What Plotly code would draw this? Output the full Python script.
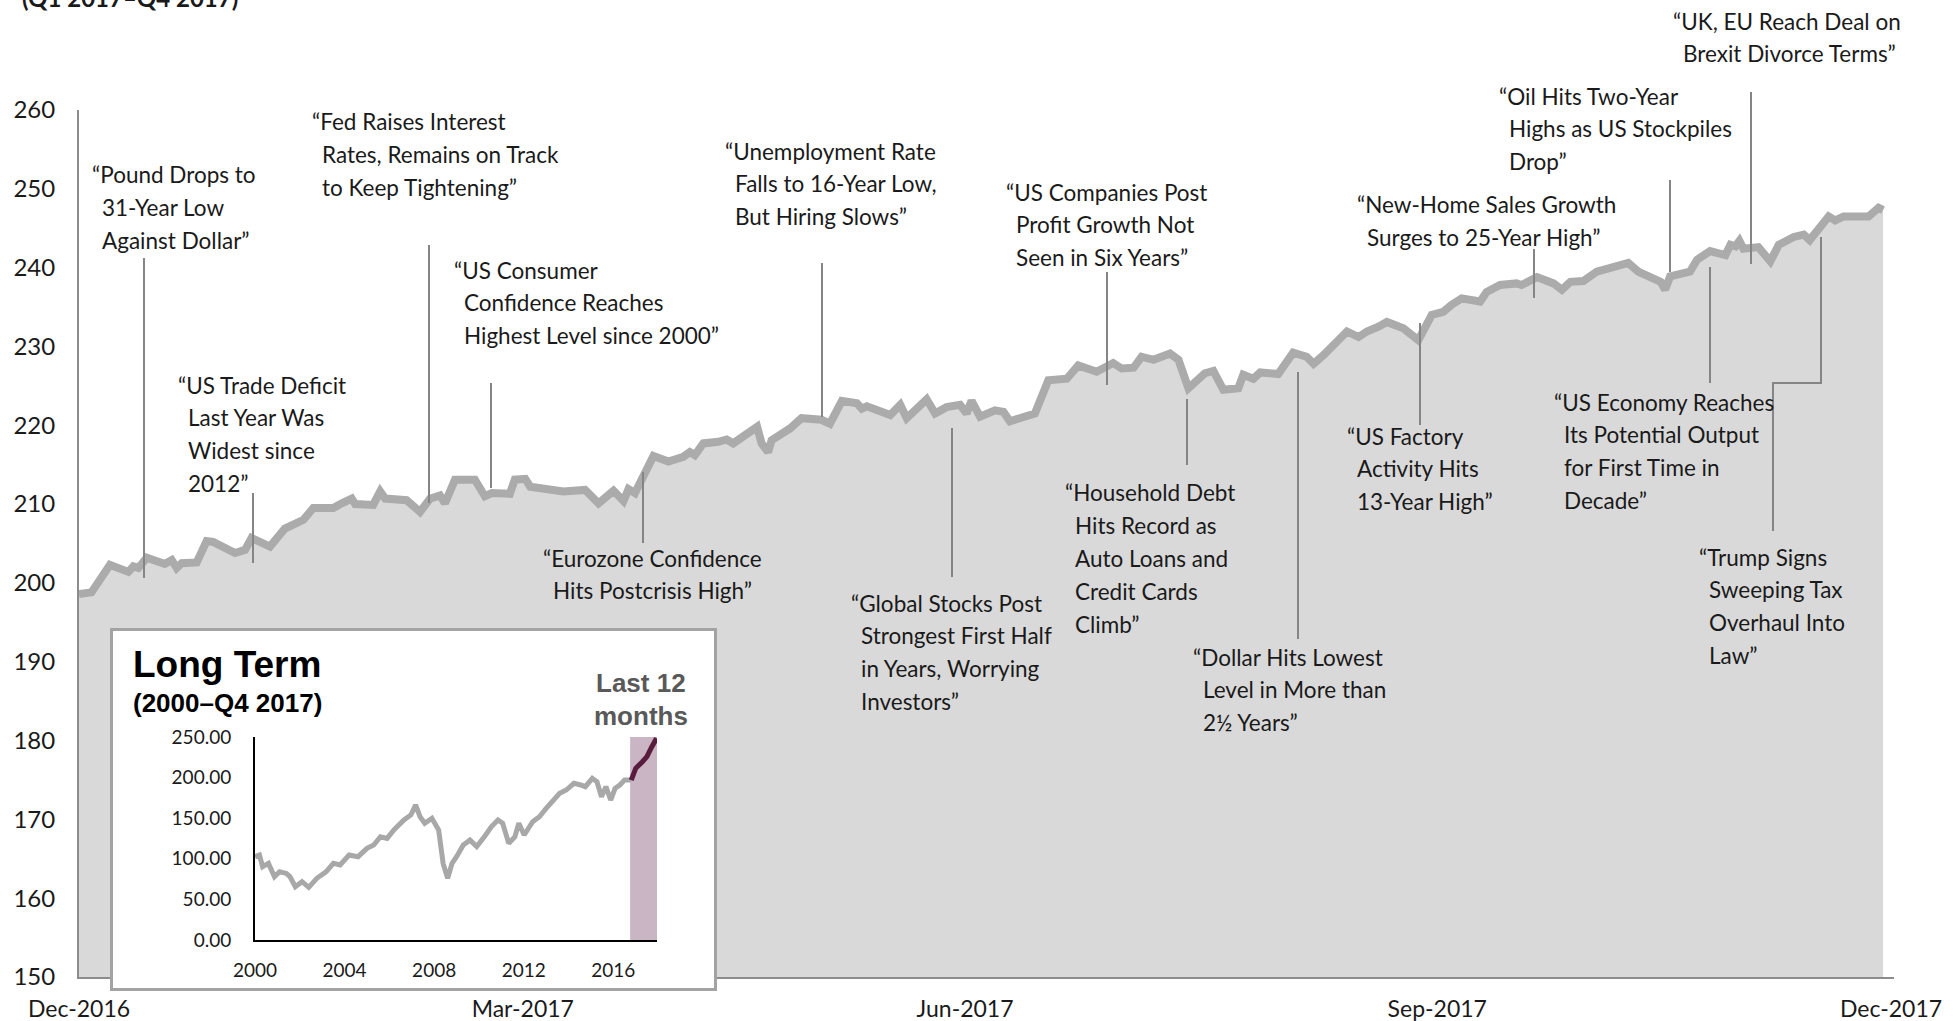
import pandas as pd
import plotly.graph_objects as go

W, H = 1958, 1021

# ---------------- main series (days after 30 Dec 2016, index level) ----------------
START = "2016-12-30"
days = [0, 2.5, 6.2, 9.9, 10.9, 11.9, 13.6, 17.2, 18.6, 19.6,
        20.6, 23.6, 25.6, 26.9, 31.3, 33.3, 34.6, 38.3, 41.3, 45.0,
        47.0, 51.0, 52.7, 54.7, 55.4, 59.0, 60.4, 61.4, 65.7, 68.4,
        70.4, 72.4, 73.4, 75.4, 79.4, 81.4, 82.8, 86.4, 87.4, 89.5,
        90.5, 94.5, 97.1, 101.5, 104.2, 107.2, 109.2, 110.2, 111.5, 115.2,
        118.2, 121.2, 122.5, 123.5, 125.2, 128.2, 129.9, 131.2, 134.6, 136.0,
        136.9, 138.2, 138.9, 142.6, 144.9, 148.9, 150.6, 153.0, 156.0, 157.0,
        158.0, 162.7, 164.7, 166.0, 170.0, 171.7, 174.0, 176.7,
        178.0, 179.0, 180.7, 183.7, 185.4, 186.7, 191.7, 192.7, 194.4, 198.1,
        200.4, 204.1, 207.4, 209.1, 211.5, 213.1, 215.5, 218.8, 220.5, 222.5,
        225.8, 227.5, 229.5, 232.5, 233.5, 235.5, 236.9, 240.5, 243.5, 246.2,
        247.6, 249.6, 254.3, 256.6, 258.3, 260.6, 262.3,
        265.6, 268.6, 271.3, 273.6, 275.3, 277.3, 281.0, 282.3, 285.0, 288.3,
        289.3, 290.3, 292.4, 295.7, 297.4, 299.1, 301.7, 304.4, 307.7, 310.7,
        312.7, 315.7, 317.2, 318.1, 319.1, 323.1, 324.5, 327.1, 330.2, 331.2,
        332.2, 333.0, 333.8, 336.8, 339.2, 340.9, 343.9, 345.9, 347.1, 350.9,
        352.2, 353.9, 358.9, 360.9, 361.8]
values = [198.6, 198.8, 202.3, 201.4, 202.1, 201.9, 203.2, 202.4, 202.9, 201.9,
          202.5, 202.6, 205.3, 205.2, 203.8, 204.2, 205.7, 204.6, 206.9, 208.0,
          209.5, 209.5, 210.1, 210.7, 210.0, 209.9, 211.6, 210.7, 210.5, 209.0,
          210.7, 211.1, 210.1, 213.1, 213.1, 211.0, 211.4, 211.3, 213.1, 213.2,
          212.2, 211.9, 211.6, 211.8, 210.1, 211.7, 210.4, 211.9, 211.4, 216.1,
          215.4, 216.0, 216.6, 216.2, 217.7, 217.9, 218.2, 217.7, 219.0, 219.8,
          217.7, 216.6, 218.1, 219.6, 220.9, 220.7, 220.2, 223.1, 222.8, 222.1,
          222.4, 221.3, 222.6, 220.9, 223.3, 221.5, 222.3, 222.6,
          221.5, 223.1, 221.1, 221.9, 221.7, 220.5, 221.5, 223.2, 225.7, 225.9,
          227.6, 226.8, 227.9, 227.2, 227.3, 228.7, 228.3, 229.1, 228.3, 224.7,
          226.6, 226.9, 224.5, 224.7, 226.4, 225.9, 226.7, 226.5, 229.2, 228.7,
          227.8, 228.9, 231.9, 231.2, 231.9, 232.5, 233.1,
          232.3, 230.8, 234.0, 234.4, 235.3, 236.1, 235.7, 236.9, 237.8, 238.0,
          237.8, 238.2, 238.8, 238.0, 237.2, 238.2, 238.3, 239.5, 240.0, 240.6,
          239.5, 238.8, 238.2, 237.2, 238.9, 239.5, 241.0, 242.1, 241.6, 242.9,
          242.7, 243.4, 242.4, 242.6, 240.8, 242.9, 243.9, 244.2, 243.5, 246.5,
          246.0, 246.5, 246.5, 247.6, 247.3]

x_tick_days = [0, 89.0, 177.7, 272.4, 363.4]
x_tick_text = ["Dec-2016", "Mar-2017", "Jun-2017", "Sep-2017", "Dec-2017"]
y_ticks = [150, 160, 170, 180, 190, 200, 210, 220, 230, 240, 250, 260]

# ---------------- long-term inset series ----------------
lt_years = [2000.0, 2000.2, 2000.34, 2000.6, 2000.87, 2001.1, 2001.4, 2001.56, 2001.8, 2002.1,
            2002.4, 2002.76, 2003.17, 2003.5, 2003.8, 2004.2, 2004.6, 2005.0, 2005.3, 2005.6,
            2005.9, 2006.2, 2006.65, 2006.96, 2007.17, 2007.37, 2007.58, 2007.9, 2008.2, 2008.4,
            2008.6, 2008.8, 2009.0, 2009.3, 2009.6, 2009.9, 2010.24, 2010.55, 2010.85, 2011.06,
            2011.33, 2011.6, 2011.78, 2012.02, 2012.4, 2012.7, 2013.0, 2013.3, 2013.6, 2013.9,
            2014.24, 2014.54, 2014.75, 2015.06, 2015.27, 2015.47, 2015.67, 2015.88, 2016.08, 2016.29,
            2016.5, 2016.66, 2016.8]
lt_values = [102.6, 104.7, 90.3, 94.4, 78, 84, 82, 78, 65.6, 71.8,
             64.9, 76, 84, 94.4, 92.4, 104.7, 102.6, 112.9, 117, 127.2,
             125.2, 135.5, 147.8, 154, 166.3, 151.8, 143.7, 149.9, 135.5, 94.4,
             76, 94.4, 102.6, 117, 123, 115, 127, 139.5, 147.8, 143.7,
             119, 127, 143.7, 129.3, 145.7, 151.8, 162, 170.3, 180.6, 184.7,
             193, 190.9, 188.8, 199.1, 194.9, 176.5, 188.8, 172.4, 186.8, 190.9,
             197, 197, 197]
recent_years = [2016.8, 2017.0, 2017.3, 2017.5, 2017.72, 2017.93]
recent_values = [197, 211.4, 219.6, 225.8, 238, 248.4]
lt_ticks = [2000, 2004, 2008, 2012, 2016]
lt_yticks = [0, 50, 100, 150, 200, 250]
shade_span = [2016.75, 2017.95]

# ---------------- news annotations ----------------
note_texts = [
    ["“Pound Drops to", "31-Year Low", "Against Dollar”"],
    ["“US Trade Deficit", "Last Year Was", "Widest since", "2012”"],
    ["“Fed Raises Interest", "Rates, Remains on Track", "to Keep Tightening”"],
    ["“US Consumer", "Confidence Reaches", "Highest Level since 2000”"],
    ["“Eurozone Confidence", "Hits Postcrisis High”"],
    ["“Unemployment Rate", "Falls to 16-Year Low,", "But Hiring Slows”"],
    ["“Global Stocks Post", "Strongest First Half", "in Years, Worrying", "Investors”"],
    ["“US Companies Post", "Profit Growth Not", "Seen in Six Years”"],
    ["“Household Debt", "Hits Record as", "Auto Loans and", "Credit Cards", "Climb”"],
    ["“Dollar Hits Lowest", "Level in More than", "2½ Years”"],
    ["“US Factory", "Activity Hits", "13-Year High”"],
    ["“New-Home Sales Growth", "Surges to 25-Year High”"],
    ["“Oil Hits Two-Year", "Highs as US Stockpiles", "Drop”"],
    ["“UK, EU Reach Deal on", "Brexit Divorce Terms”"],
    ["“US Economy Reaches", "Its Potential Output", "for First Time in", "Decade”"],
    ["“Trump Signs", "Sweeping Tax", "Overhaul Into", "Law”"],
]
# text left (px) and first-line centre (px)
note_pos = [(90, 175), (176, 385), (310, 122), (452, 270), (541, 558), (723, 151),
            (849, 603), (1004, 192), (1063, 493), (1191, 657), (1345, 436), (1355, 205),
            (1497, 96), (1671, 21), (1552, 402), (1697, 557)]
# leader lines as pixel polylines
leaders = [
    [(144, 258), (144, 578)],
    [(253, 493), (253, 563)],
    [(429, 245), (429, 503)],
    [(491, 383), (491, 488)],
    [(643, 472), (643, 543)],
    [(822, 263), (822, 417)],
    [(952, 428), (952, 577)],
    [(1107, 272), (1107, 385)],
    [(1187, 399), (1187, 465)],
    [(1298, 372), (1298, 639)],
    [(1420, 323), (1420, 425)],
    [(1534, 249), (1534, 298)],
    [(1670, 180), (1670, 272)],
    [(1751, 92), (1751, 264)],
    [(1710, 267), (1710, 383)],
    [(1773, 531), (1773, 383), (1821, 383), (1821, 237)],
]
LINE_H = 32.8


def px(x):
    return x / W


def py(y):
    return 1 - y / H


start = pd.Timestamp(START)
x_dates = start + pd.to_timedelta(days, unit="D")
tick_dates = start + pd.to_timedelta(x_tick_days, unit="D")
x_end = start + pd.Timedelta(days=364)

TXT = "#1a1a1a"
fig = go.Figure()

# main area chart
fig.add_trace(go.Scatter(
    x=x_dates, y=values, mode="lines",
    line=dict(color="#ababab", width=8),
    fill="tozeroy", fillcolor="#d9d9d9",
    xaxis="x", yaxis="y", showlegend=False,
    hovertemplate="%{x|%d %b %Y}: %{y:.1f}<extra></extra>",
))
# inset frame (empty subplot used as white box)
fig.add_trace(go.Scatter(x=[], y=[], xaxis="x2", yaxis="y2",
                         showlegend=False, hoverinfo="skip"))
# inset long-term line
fig.add_trace(go.Scatter(
    x=lt_years, y=lt_values, mode="lines",
    line=dict(color="#a8a8a8", width=5),
    xaxis="x3", yaxis="y3", showlegend=False,
))
fig.add_trace(go.Scatter(
    x=recent_years, y=recent_values, mode="lines",
    line=dict(color="#5a1c3c", width=5),
    xaxis="x3", yaxis="y3", showlegend=False,
))

font_y = dict(family="Lato, 'Open Sans', sans-serif", size=24, color=TXT)
font_x = dict(family="Lato, 'Open Sans', sans-serif", size=23, color=TXT)

fig.update_layout(
    width=W, height=H, autosize=False,
    margin=dict(l=0, r=0, t=0, b=0, autoexpand=False),
    paper_bgcolor="white", plot_bgcolor="white",
    xaxis=dict(
        domain=[px(79), px(1894)], anchor="y", automargin=False,
        range=[start, x_end], type="date",
        tickvals=tick_dates, ticktext=x_tick_text,
        showline=True, linecolor="#8c8c8c", linewidth=2,
        showgrid=False, zeroline=False, ticks="",
        tickfont=font_x, ticklabelstandoff=10,
    ),
    yaxis=dict(
        domain=[py(977), py(110)], anchor="x", automargin=False,
        range=[150, 260], tickvals=y_ticks,
        showline=True, linecolor="#8c8c8c", linewidth=2,
        showgrid=False, zeroline=False, ticks="",
        tickfont=font_y, ticklabelstandoff=17,
    ),
    xaxis2=dict(
        domain=[px(113), px(714)], anchor="y2", range=[0, 1], automargin=False,
        showline=True, mirror=True, linecolor="#a3a3a3", linewidth=3,
        showgrid=False, zeroline=False, showticklabels=False, ticks="",
        fixedrange=True,
    ),
    yaxis2=dict(
        domain=[py(988), py(631)], anchor="x2", range=[0, 1], automargin=False,
        showline=True, mirror=True, linecolor="#a3a3a3", linewidth=3,
        showgrid=False, zeroline=False, showticklabels=False, ticks="",
        fixedrange=True,
    ),
    xaxis3=dict(
        domain=[px(255), px(657)], anchor="y3", range=[2000, 2017.95], automargin=False,
        tickvals=lt_ticks, ticktext=[str(t) for t in lt_ticks],
        showline=True, linecolor="black", linewidth=2,
        showgrid=False, zeroline=False, ticks="",
        tickfont=dict(family="Lato, sans-serif", size=19, color=TXT),
        ticklabelstandoff=12,
    ),
    yaxis3=dict(
        domain=[py(940), py(737)], anchor="x3", range=[0, 250], automargin=False,
        tickvals=lt_yticks, tickformat=".2f",
        showline=True, linecolor="black", linewidth=2,
        showgrid=False, zeroline=False, ticks="",
        tickfont=dict(family="Lato, sans-serif", size=19, color=TXT),
        ticklabelstandoff=18,
    ),
)

# shaded last-12-months band in the inset
fig.add_shape(type="rect", xref="x3", yref="y3",
              x0=shade_span[0], x1=shade_span[1], y0=0, y1=250,
              fillcolor="#c9b5c3", line=dict(width=0), layer="below")

# news annotations, one annotation per text line
note_font = dict(family="Lato, 'Open Sans', sans-serif", size=22.5, color=TXT)
for lines, (x0, y0) in zip(note_texts, note_pos):
    for i, t in enumerate(lines):
        fig.add_annotation(
            text=t, xref="paper", yref="paper",
            x=px(x0 if i == 0 else x0 + 10), y=py(y0 + i * LINE_H),
            xanchor="left", yanchor="middle", showarrow=False,
            font=note_font,
        )

for pts in leaders:
    path = "M " + " L ".join(f"{px(a):.5f},{py(b):.5f}" for a, b in pts)
    fig.add_shape(type="path", xref="paper", yref="paper", path=path,
                  line=dict(color="#858585", width=2), layer="above")

# partially visible heading at the very top (cut by the page edge, as in the source)
fig.add_annotation(text="<b>(Q1 2017–Q4 2017)</b>", xref="paper", yref="paper",
                   x=px(20), y=py(-2), xanchor="left", yanchor="middle",
                   showarrow=False,
                   font=dict(family="Lato, sans-serif", size=24, color=TXT))

# inset titles
fig.add_annotation(text="<b>Long Term</b>", xref="paper", yref="paper",
                   x=px(131), y=py(664), xanchor="left", yanchor="middle",
                   showarrow=False,
                   font=dict(family="Liberation Sans, Arial, sans-serif", size=37, color="black"))
fig.add_annotation(text="<b>(2000–Q4 2017)</b>", xref="paper", yref="paper",
                   x=px(131), y=py(703), xanchor="left", yanchor="middle",
                   showarrow=False,
                   font=dict(family="Liberation Sans, Arial, sans-serif", size=26, color="black"))
fig.add_annotation(text="<b>Last 12</b>", xref="paper", yref="paper",
                   x=px(641), y=py(683), xanchor="center", yanchor="middle",
                   showarrow=False,
                   font=dict(family="Liberation Sans, Arial, sans-serif", size=26, color="#595959"))
fig.add_annotation(text="<b>months</b>", xref="paper", yref="paper",
                   x=px(641), y=py(716), xanchor="center", yanchor="middle",
                   showarrow=False,
                   font=dict(family="Liberation Sans, Arial, sans-serif", size=26, color="#595959"))

fig.write_html("out.html",
               config={"displayModeBar": False},
               post_script="document.body.style.margin='0';document.body.style.overflow='hidden';")
